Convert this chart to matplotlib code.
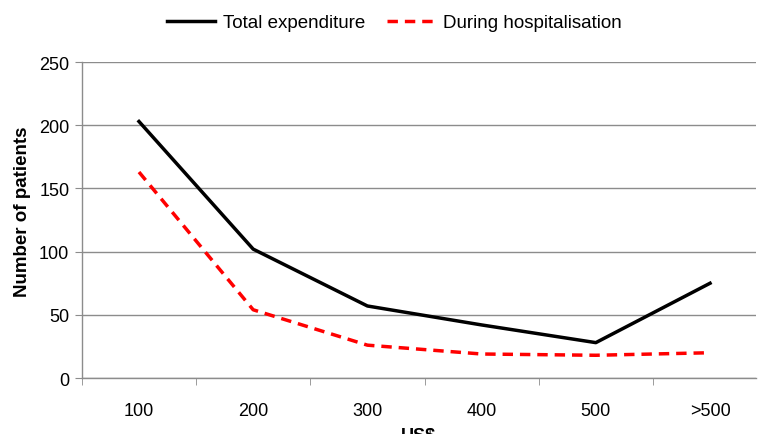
import matplotlib
matplotlib.use("Agg")
import matplotlib.pyplot as plt
import numpy as np

plt.rcParams["font.family"] = ["Liberation Sans", "DejaVu Sans"]

# ── Data ────────────────────────────────────────────────────────
categories = ["100", "200", "300", "400", "500", ">500"]
total_expenditure = [203, 102, 57, 42, 28, 75]
during_hospitalisation = [163, 54, 26, 19, 18, 20]

fig = plt.figure(figsize=(7.58, 4.35), dpi=100)
ax = fig.add_axes([0.108, 0.1287, 0.889, 0.7263])

x = np.arange(len(categories))
ax.plot(x, total_expenditure, color="black", linewidth=2.5,
        label="Total expenditure")
ax.plot(x, during_hospitalisation, color="#ff0000", linewidth=2.5,
        linestyle=(0, (3, 2)), label="During hospitalisation")

ax.set_yticks(range(0, 251, 50))
ax.set_xticks(x)
ax.set_xticklabels(categories)
ax.set_xticks(np.arange(-0.5, 5.6, 1), minor=True)
# limits after ticks so the minor ticks don't widen the view
ax.set_ylim(0, 250)
ax.set_xlim(-0.5, 5.4)

ax.grid(axis="y", color="#8c8c8c", linewidth=1)
ax.set_axisbelow(True)
for s in ["top", "right"]:
    ax.spines[s].set_visible(False)
for s in ["left", "bottom"]:
    ax.spines[s].set_color("#8c8c8c")
    ax.spines[s].set_linewidth(1)

ax.tick_params(axis="y", direction="out", length=5, color="#8c8c8c",
               labelsize=13, pad=4)
ax.tick_params(axis="x", which="major", length=0, labelsize=13, pad=17)
ax.tick_params(axis="x", which="minor", direction="out", length=5,
               color="#8c8c8c")

ax.set_ylabel("Number of patients", fontsize=13.5, fontweight="bold")
ax.yaxis.set_label_coords(-0.076, 0.528)
ax.set_xlabel("US$", fontsize=13, fontweight="bold", labelpad=6)

fig.legend(loc="center", bbox_to_anchor=(0.52, 0.945), ncol=2, frameon=False,
           fontsize=13.5, handlelength=2.6, columnspacing=1.15, handletextpad=0.4)

fig.savefig("out.png", dpi=100)
plt.close(fig)
